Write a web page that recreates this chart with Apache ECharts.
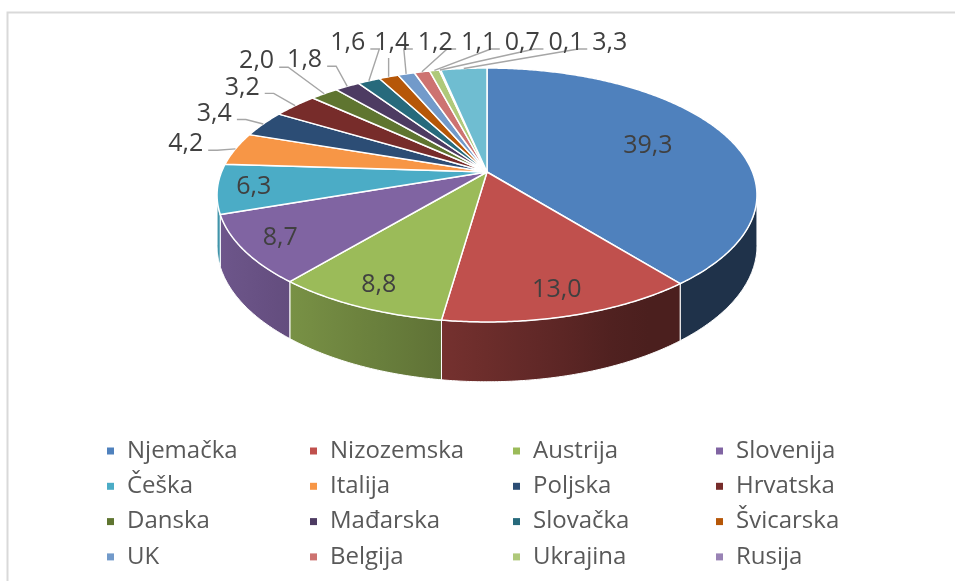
<!DOCTYPE html>
<html>
<head>
<meta charset="utf-8">
<script src="https://cdn.jsdelivr.net/npm/echarts@6/dist/echarts.min.js"></script>
<style>
  html, body { margin: 0; padding: 0; background: #fff; }
  #chart { width: 955px; height: 581px; }
</style>
</head>
<body>
<div id="chart"></div>
<script>
// podaci (udio u %)
const countries = ['Njemačka', 'Nizozemska', 'Austrija', 'Slovenija', 'Češka', 'Italija', 'Poljska', 'Hrvatska',
  'Danska', 'Mađarska', 'Slovačka', 'Švicarska', 'UK', 'Belgija', 'Ukrajina', 'Rusija', 'Ostalo']
const shares = [39.3, 13.0, 8.8, 8.7, 6.3, 4.2, 3.4, 3.2, 2.0, 1.8, 1.6, 1.4, 1.2, 1.1, 0.7, 0.1, 3.3]
const legendNames = countries.slice(0, 16)

const palette = ['#4F81BD', '#C0504D', '#9BBB59', '#8064A2', '#4BACC6', '#F79646', '#2C4D75', '#772C2A',
  '#5F7530', '#4D3B62', '#276A7C', '#B65708', '#729ACA', '#CD7371', '#AFC97A', '#9983B5', '#6FBDD1']

// geometrija 3D pite (perspektiva)
const CX = 487, CY = 172, RX = 265.5, RY = 122.8, PERSP = 0.181, DEPTH = 49
const VIS0 = Math.acos(-PERSP) * 180 / Math.PI
const VIS1 = 360 - VIS0
const LABEL_FONT = '25px "Open Sans"'
const TOP_Y = 43

function proj(theta, r, drop) {
  const t = theta * Math.PI / 180
  const u = Math.sin(t) * r, w = -Math.cos(t) * r
  const s = 1 / (1 - PERSP * w)
  return [CX + RX * u * s, CY + RY * w * s + drop * s]
}

function shade(hex, f) {
  const n = parseInt(hex.slice(1), 16)
  const r = Math.round(((n >> 16) & 255) * f)
  const g = Math.round(((n >> 8) & 255) * f)
  const b = Math.round((n & 255) * f)
  return 'rgb(' + r + ',' + g + ',' + b + ')'
}

function light(theta) {
  return Math.max(0.39, 0.5 + 0.36 * Math.cos((theta - 260) * Math.PI / 180))
}

const total = shares.reduce((a, b) => a + b, 0)
const startAngles = []
const endAngles = []
let acc = 0
shares.forEach((v) => {
  startAngles.push(acc / total * 360)
  acc += v
  endAngles.push(acc / total * 360)
})

const fmt = (v) => v.toFixed(1).replace('.', ',')

// raspored oznaka
const measureCtx = document.createElement('canvas').getContext('2d')
measureCtx.font = LABEL_FONT
const placed = []
const labels = shares.map((v, i) => {
  const mid = (startAngles[i] + endAngles[i]) / 2
  const text = fmt(v)
  if (v >= 5) {
    // unutar isječka, blizu težišta
    const half = (endAngles[i] - startAngles[i]) / 2 * Math.PI / 180
    const r = 1.31 * (2 / 3) * Math.sin(half) / half
    const p = proj(mid, r, 0)
    return { text, x: p[0], y: p[1], inside: true }
  }
  const anchor = proj(mid, 1, 0)
  let dx = anchor[0] - CX, dy = anchor[1] - CY
  const len = Math.hypot(dx, dy)
  dx /= len; dy /= len
  const tw = measureCtx.measureText(text).width
  const bw = tw + 8, bh = 26
  let d = 50, shift = 0, x = 0, y = 0
  for (let k = 0; k < 800; k++) {
    x = anchor[0] + dx * d
    y = anchor[1] + dy * d
    const clamped = y < TOP_Y
    if (clamped) y = TOP_Y
    x += shift
    const box = { l: x - bw / 2, r: x + bw / 2, t: y - bh / 2, b: y + bh / 2 }
    const hit = placed.some((o) => box.l < o.r && box.r > o.l && box.t < o.b && box.b > o.t)
    if (!hit) { placed.push(box); break }
    if (clamped) shift += 1
    else d += 1
  }
  // linija do oznake
  const left = x - tw / 2, right = x + tw / 2
  let line
  if (anchor[0] >= left && anchor[0] <= right) {
    line = [[anchor[0], y + 15], anchor]
  } else if (anchor[0] > right) {
    line = [[right + 5, y + 6], [right + 14, y + 6], anchor]
  } else {
    line = [[left - 5, y + 6], [left - 14, y + 6], anchor]
  }
  return { text, x, y, inside: false, line }
})

function rim(a, b, drop) {
  const pts = []
  const n = Math.max(2, Math.ceil((b - a) / 0.5))
  for (let k = 0; k <= n; k++) pts.push(proj(a + (b - a) * k / n, 1, drop))
  return pts
}

function renderSlice(params, api) {
  const i = params.dataIndex
  const a0 = startAngles[i], a1 = endAngles[i]
  const children = []

  // bočna stijenka
  const wa = Math.max(a0, VIS0), wb = Math.min(a1, VIS1)
  if (wb > wa) {
    const top = rim(wa, wb, 0)
    const bottom = rim(wa, wb, DEPTH).reverse()
    const xs = top.map((p) => p[0])
    const xmin = Math.min(...xs), xmax = Math.max(...xs)
    const stops = []
    for (let k = 6; k >= 0; k--) {
      const th = wa + (wb - wa) * k / 6
      const px = proj(th, 1, 0)[0]
      stops.push({ offset: xmax > xmin ? (px - xmin) / (xmax - xmin) : 0, color: shade(palette[i], light(th)) })
    }
    stops.sort((s1, s2) => s1.offset - s2.offset)
    children.push({
      type: 'polygon',
      shape: { points: top.concat(bottom) },
      style: {
        fill: new echarts.graphic.LinearGradient(xmin, 0, xmax, 0, stops, true),
        stroke: '#fff',
        lineWidth: 1
      },
      z2: 1
    })
  }

  // gornja ploha
  children.push({
    type: 'polygon',
    shape: { points: [[CX, CY]].concat(rim(a0, a1, 0)) },
    style: { fill: palette[i], stroke: '#fff', lineWidth: 1.5, lineJoin: 'round' },
    z2: 10
  })

  const lb = labels[i]
  if (!lb.inside) {
    children.push({
      type: 'polyline',
      shape: { points: lb.line },
      style: { stroke: '#a6a6a6', lineWidth: 1.4, fill: null },
      z2: 15
    })
  }
  children.push({
    type: 'text',
    style: {
      text: lb.text, x: lb.x, y: lb.y, fill: '#404040', font: LABEL_FONT,
      align: 'center', verticalAlign: 'middle'
    },
    z2: 20
  })
  return { type: 'group', children }
}

const chart = echarts.init(document.getElementById('chart'))

const legends = [0, 1, 2, 3].map((c) => ({
  orient: 'vertical',
  left: 107 + c * 203,
  top: 436,
  padding: 0,
  itemGap: 5.3,
  itemWidth: 7,
  itemHeight: 7,
  icon: 'rect',
  selectedMode: false,
  data: legendNames.filter((_, k) => k % 4 === c),
  textStyle: { color: '#595959', fontSize: 24, fontFamily: 'Open Sans', lineHeight: 30, padding: [0, 0, 0, 8] }
}))

chart.setOption({
  animation: false,
  color: palette,
  textStyle: { fontFamily: 'Open Sans' },
  graphic: [{
    type: 'rect',
    shape: { x: 7.5, y: 12.5, width: 1000, height: 1000 },
    style: { fill: 'none', stroke: '#d9d9d9', lineWidth: 2 },
    silent: true
  }],
  legend: legends,
  series: [
    {
      type: 'custom',
      coordinateSystem: 'none',
      renderItem: renderSlice,
      silent: true,
      data: shares.map((v, i) => ({ name: countries[i], value: v }))
    },
    {
      // samo za legendu
      type: 'pie',
      radius: [0, 0],
      center: [-50, -50],
      silent: true,
      label: { show: false },
      labelLine: { show: false },
      data: shares.map((v, i) => ({ name: countries[i], value: v }))
    }
  ]
})
</script>
</body>
</html>
